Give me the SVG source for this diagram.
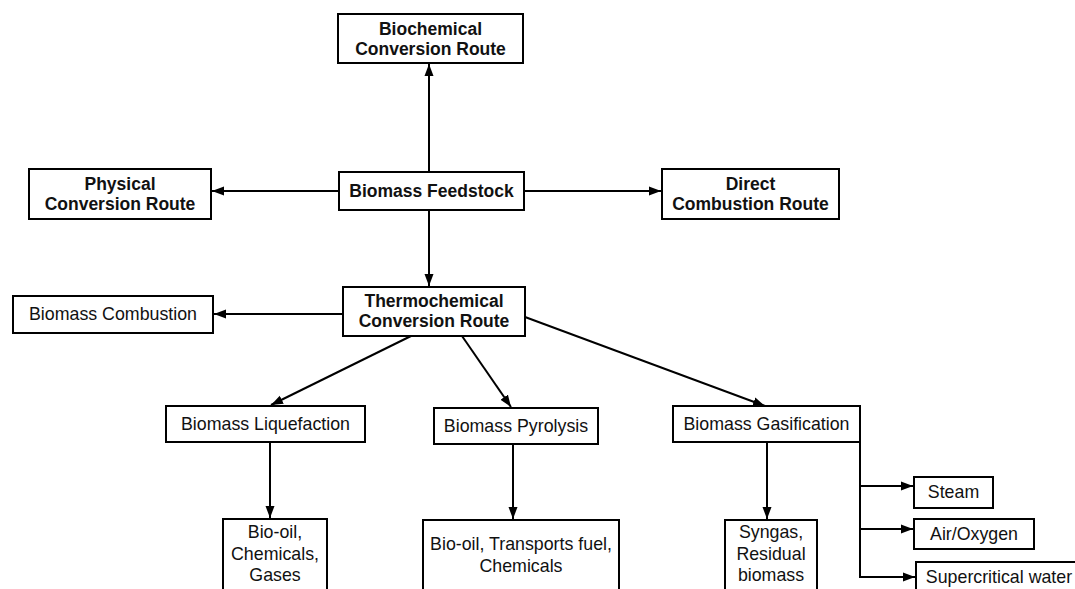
<svg xmlns="http://www.w3.org/2000/svg" width="1075" height="589" viewBox="0 0 1075 589">
<style>
.box{fill:#fff;stroke:#000;stroke-width:2}
.b{font-family:"Liberation Sans",Arial,sans-serif;font-weight:bold;font-size:17.5px;fill:#111;text-anchor:middle}
.r{font-family:"Liberation Sans",Arial,sans-serif;font-size:17.8px;fill:#111;text-anchor:middle}
.c{fill:none;stroke:#000;stroke-width:2}
</style>
<defs>
<marker id="ah" viewBox="0 0 12 10" refX="12" refY="5" markerWidth="12" markerHeight="10" markerUnits="userSpaceOnUse" orient="auto">
<path d="M0,0.5 L12,5 L0,9.5 Z" fill="#000"/>
</marker>
</defs>
<rect width="1075" height="589" fill="#fff"/>
<g id="connectors">
<line class="c" x1="429" y1="172" x2="429" y2="64" marker-end="url(#ah)"/>
<line class="c" x1="339" y1="191" x2="212" y2="191" marker-end="url(#ah)"/>
<line class="c" x1="524" y1="191" x2="661" y2="191" marker-end="url(#ah)"/>
<line class="c" x1="429" y1="210" x2="429" y2="286" marker-end="url(#ah)"/>
<line class="c" x1="343" y1="314" x2="214" y2="314" marker-end="url(#ah)"/>
<line class="c" x1="411" y1="336" x2="271" y2="405" marker-end="url(#ah)"/>
<line class="c" x1="462" y1="336" x2="511" y2="407" marker-end="url(#ah)"/>
<line class="c" x1="525" y1="317" x2="765" y2="406" marker-end="url(#ah)"/>
<line class="c" x1="270" y1="442" x2="270" y2="518" marker-end="url(#ah)"/>
<line class="c" x1="513" y1="444" x2="513" y2="519" marker-end="url(#ah)"/>
<line class="c" x1="767" y1="442" x2="767" y2="519" marker-end="url(#ah)"/>
<polyline class="c" points="860,442 860,577 915,577" marker-end="url(#ah)"/>
<line class="c" x1="860" y1="486" x2="913" y2="486" marker-end="url(#ah)"/>
<line class="c" x1="860" y1="529" x2="913" y2="529" marker-end="url(#ah)"/>
</g>
<g id="biochemical">
<rect class="box" x="338" y="14" width="185" height="49"/>
<text class="b" x="430.5" y="35">Biochemical</text>
<text class="b" x="430.5" y="55">Conversion Route</text>
</g>
<g id="physical">
<rect class="box" x="29" y="169" width="182" height="50"/>
<text class="b" x="120" y="190">Physical</text>
<text class="b" x="120" y="210">Conversion Route</text>
</g>
<g id="feedstock">
<rect class="box" x="339" y="172" width="185" height="38"/>
<text class="b" x="431.5" y="197">Biomass Feedstock</text>
</g>
<g id="direct">
<rect class="box" x="662" y="169" width="177" height="50"/>
<text class="b" x="750.5" y="190">Direct</text>
<text class="b" x="750.5" y="210">Combustion Route</text>
</g>
<g id="thermochemical">
<rect class="box" x="343" y="287" width="182" height="49"/>
<text class="b" x="434" y="307">Thermochemical</text>
<text class="b" x="434" y="327">Conversion Route</text>
</g>
<g id="combustion">
<rect class="box" x="13" y="296" width="200" height="37"/>
<text class="r" x="113" y="320">Biomass Combustion</text>
</g>
<g id="liquefaction">
<rect class="box" x="166" y="406" width="199" height="36"/>
<text class="r" x="265.5" y="430">Biomass Liquefaction</text>
</g>
<g id="pyrolysis">
<rect class="box" x="434" y="408" width="164" height="36"/>
<text class="r" x="516" y="432">Biomass Pyrolysis</text>
</g>
<g id="gasification">
<rect class="box" x="673" y="406" width="187" height="36"/>
<text class="r" x="766.5" y="430">Biomass Gasification</text>
</g>
<g id="liq-products">
<rect class="box" x="223" y="519" width="104" height="80"/>
<text class="r" x="275" y="538">Bio-oil,</text>
<text class="r" x="275" y="560">Chemicals,</text>
<text class="r" x="275" y="581">Gases</text>
</g>
<g id="pyr-products">
<rect class="box" x="423" y="520" width="196" height="80"/>
<text class="r" x="521" y="550">Bio-oil, Transports fuel,</text>
<text class="r" x="521" y="572">Chemicals</text>
</g>
<g id="gas-products">
<rect class="box" x="725" y="520" width="92" height="80"/>
<text class="r" x="771" y="538">Syngas,</text>
<text class="r" x="771" y="560">Residual</text>
<text class="r" x="771" y="581">biomass</text>
</g>
<g id="steam">
<rect class="box" x="914" y="477" width="79" height="31"/>
<text class="r" x="953.5" y="498">Steam</text>
</g>
<g id="air">
<rect class="box" x="914" y="519" width="120" height="30"/>
<text class="r" x="974" y="540">Air/Oxygen</text>
</g>
<g id="supercritical">
<rect class="box" x="916" y="562" width="170" height="40"/>
<text class="r" x="999" y="583">Supercritical water</text>
</g>
</svg>
